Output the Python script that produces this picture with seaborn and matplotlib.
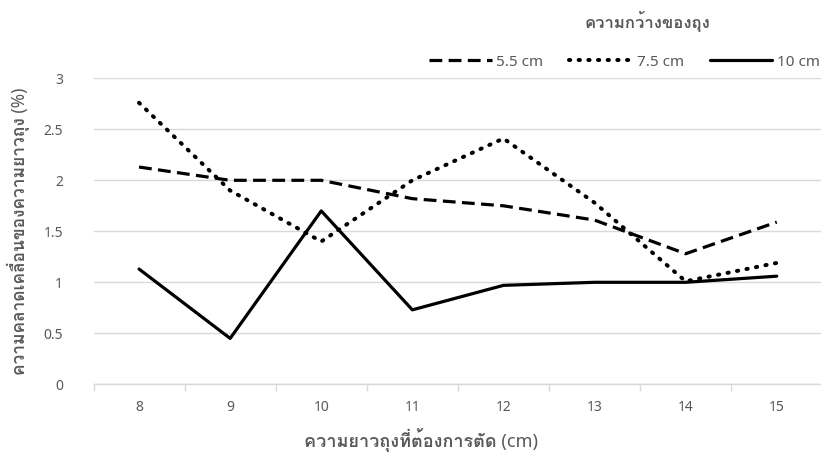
import matplotlib
matplotlib.use('Agg')
import matplotlib.pyplot as plt
from matplotlib import font_manager, ft2font
from matplotlib.ticker import FixedLocator
import seaborn as sns
import pandas as pd

# --------------------
# data
# --------------------
lengths = [8, 9, 10, 11, 12, 13, 14, 15]
w55 = [2.13, 2.0, 2.0, 1.82, 1.75, 1.61, 1.28, 1.59]
w75 = [2.76, 1.9, 1.40, 2.0, 2.41, 1.78, 1.01, 1.19]
w10 = [1.13, 0.45, 1.70, 0.73, 0.97, 1.0, 1.0, 1.06]
widths = ['5.5 cm', '7.5 cm', '10 cm']

df = pd.DataFrame({
    'length': lengths * 3,
    'value': w55 + w75 + w10,
    'width': [w for w in widths for _ in lengths],
})

# pick a font that actually has Thai glyphs
def thai_font():
    for f in font_manager.fontManager.ttflist:
        try:
            if 0x0E01 in ft2font.FT2Font(f.fname).get_charmap():
                return f.name
        except Exception:
            pass
    return 'DejaVu Sans'

sns.set_style("white")
plt.rcParams['font.family'] = ['Noto Sans', thai_font(), 'DejaVu Sans']
grey = '#595959'

fig = plt.figure(figsize=(8.21, 4.58), dpi=100)
ax = fig.add_axes([93.5 / 821, (458 - 384.3) / 458, 728.8 / 821, 306 / 458])

dashes = {'5.5 cm': (4, 2), '7.5 cm': (0.3, 2.1), '10 cm': ''}
sns.lineplot(data=df, x='length', y='value', hue='width', style='width',
             hue_order=widths, style_order=widths, dashes=dashes,
             palette=['black'] * 3, linewidth=2.3, ax=ax, legend=False)
for line, cap in zip(ax.lines, ['butt', 'round', 'butt']):
    line.set_dash_capstyle(cap)
ax.lines[1].set_linewidth(2.9)

ax.set_xlim(7.5, 15.5)
ax.set_ylim(0, 3)
ax.set_yticks([0, 0.5, 1, 1.5, 2, 2.5, 3])
ax.set_yticklabels(['0', '0.5', '1', '1.5', '2', '2.5', '3'])
ax.set_xticks(lengths)
ax.xaxis.set_minor_locator(FixedLocator([x + 0.5 for x in [7] + lengths]))
ax.grid(axis='y', color='#d9d9d9', linewidth=1)
ax.set_axisbelow(True)
for s in ['top', 'right', 'left']:
    ax.spines[s].set_visible(False)
ax.spines['bottom'].set_color('#d9d9d9')
ax.spines['bottom'].set_linewidth(1)
ax.tick_params(axis='x', which='major', length=0, pad=11, labelsize=10, labelcolor=grey)
ax.tick_params(axis='x', which='minor', length=5, color='#d9d9d9', width=1, bottom=True)
ax.tick_params(axis='y', length=0, pad=22, labelsize=10, labelcolor=grey)

ax.set_xlabel('')
ax.set_ylabel('')
fig.text(421 / 821, 1 - 440 / 458, 'ความยาวถุงที่ต้องการตัด (cm)', ha='center', va='center',
         fontsize=13, fontweight='semibold', color=grey)
fig.text(18 / 821, 1 - 231 / 458, 'ความคลาดเคลื่อนของความยาวถุง (%)', ha='center', va='center',
         rotation=90, fontsize=12.5, fontweight='semibold', color=grey)
fig.text(647 / 821, 1 - 22 / 458, 'ความกว้างของถุง', ha='center', va='center',
         fontsize=12, fontweight='semibold', color=grey)

handles = ax.lines[:3]
leg = fig.legend(handles, widths, ncol=3, loc='center right',
                 bbox_to_anchor=(820 / 821, 1 - 62 / 458), frameon=False,
                 fontsize=11, handlelength=4.1, handletextpad=0.3,
                 columnspacing=1.7, borderpad=0, borderaxespad=0)
for t in leg.get_texts():
    t.set_color(grey)

fig.savefig('out.png', dpi=100)
